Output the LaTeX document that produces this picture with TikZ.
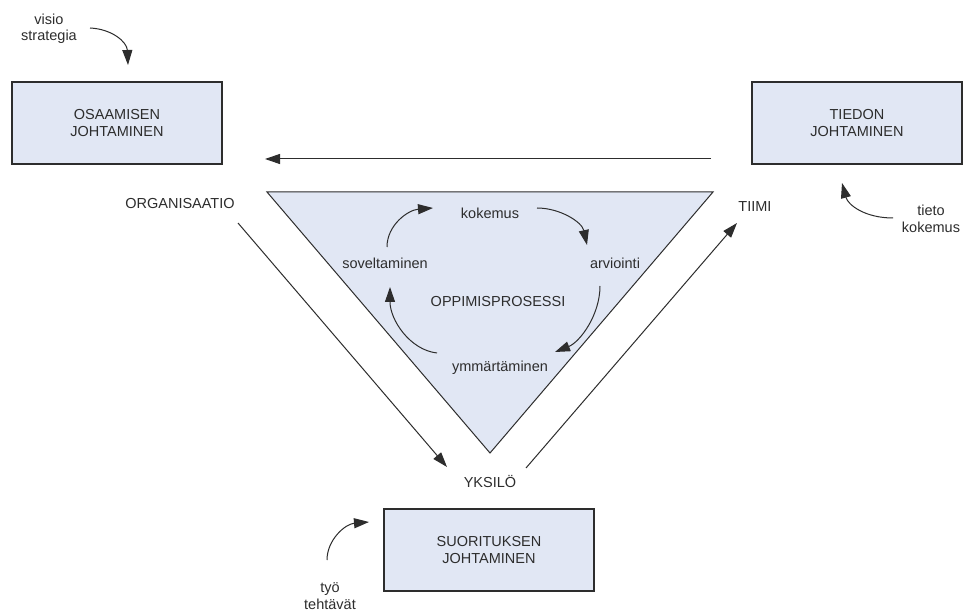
\documentclass[tikz,border=0pt]{standalone}
\usepackage{fontspec}
\setmainfont{Liberation Sans}
\usetikzlibrary{arrows.meta}
\definecolor{panel}{RGB}{225,231,244}
\definecolor{ink}{RGB}{45,45,45}
\begin{document}
\begin{tikzpicture}[x=1pt,y=-1pt,
  every node/.style={text=ink,font=\fontsize{14.5}{16.5}\selectfont,align=center,inner sep=0pt},
  mgmtbox/.style={draw=ink,line width=1.5pt,fill=panel,minimum width=210pt,minimum height=82pt},
  flow/.style={draw=ink,line width=1pt,-{Triangle[length=15pt,width=10pt]}},
  cyc/.style={draw=ink,line width=1pt,-{Triangle[length=15pt,width=10pt]}}]
\useasboundingbox (0,0) rectangle (967,612);
\fill[white] (0,0) rectangle (967,612);

% learning triangle
\draw[draw=ink,line width=1pt,fill=panel] (267,192) -- (713,192) -- (490,453) -- cycle;

% management boxes
\node[mgmtbox] (osa) at (117,123) {OSAAMISEN\\JOHTAMINEN};
\node[mgmtbox] (tie) at (857,123) {TIEDON\\JOHTAMINEN};
\node[mgmtbox] (suo) at (489,550) {SUORITUKSEN\\JOHTAMINEN};

% level labels
\node (org) at (180,204) {ORGANISAATIO};
\node (tiimi) at (755,207) {TIIMI};
\node (yks) at (490,482) {YKSILÖ};

% input labels
\node (visio) at (49,29) {visio\\strategia};
\node (tieto) at (931,219) {tieto\\kokemus};
\node (tyo) at (330,596) {työ\\tehtävät};

% learning cycle
\node (kok) at (490,213) {kokemus};
\node (arv) at (615,263) {arviointi};
\node (opp) at (498,302) {OPPIMISPROSESSI};
\node (sov) at (385,263) {soveltaminen};
\node (ymm) at (500,368) {ymmärtäminen};

% connector end points
\coordinate (hzA) at (711,159);
\coordinate (hzB) at (265,159);
\coordinate (oyA) at (238,223);
\coordinate (oyB) at (447,467);
\coordinate (ytA) at (526,468);
\coordinate (ytB) at (737,223);
\coordinate (viA) at (90,28);
\coordinate (viB) at (128,65);
\coordinate (tkA) at (893,218);
\coordinate (tkB) at (842,183);
\coordinate (tyA) at (327,560);
\coordinate (tyB) at (369,522);
\coordinate (c1A) at (387,247);
\coordinate (c1B) at (433,208);
\coordinate (c2A) at (537,208);
\coordinate (c2B) at (587,245);
\coordinate (c3A) at (600,286);
\coordinate (c3B) at (555,352);
\coordinate (c4A) at (437,353);
\coordinate (c4B) at (390,287);

% straight flows
\draw[flow] (hzA) -- (hzB);
\draw[flow] (oyA) -- (oyB);
\draw[flow] (ytA) -- (ytB);

% curved inputs
\draw[flow] (viA) .. controls (112,29) and (127,42) .. (viB);
\draw[flow] (tkA) .. controls (865,218) and (848,205) .. (tkB);
\draw[flow] (tyA) .. controls (327,540) and (345,524) .. (tyB);

% cycle arrows
\draw[cyc] (c1A) .. controls (387,225) and (408,210) .. (c1B);
\draw[cyc] (c2A) .. controls (560,208) and (582,222) .. (c2B);
\draw[cyc] (c3A) .. controls (600,315) and (580,342) .. (c3B);
\draw[cyc] (c4A) .. controls (410,350) and (390,320) .. (c4B);
\end{tikzpicture}
\end{document}
